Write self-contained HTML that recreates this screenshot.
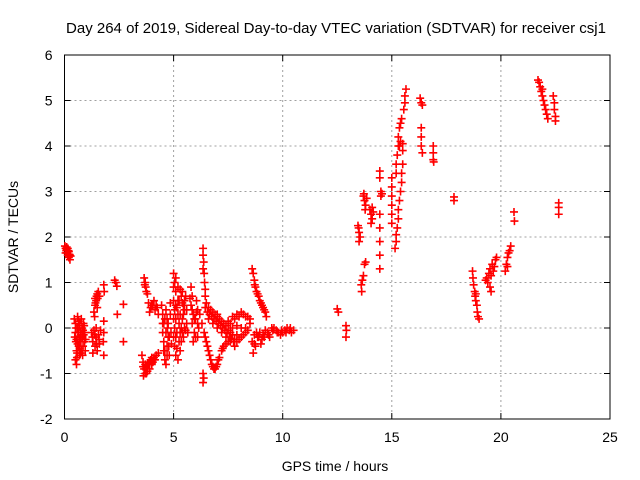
<!DOCTYPE html>
<html><head><meta charset="utf-8"><style>
body{margin:0;background:#fff}
svg{display:block;font-family:"Liberation Sans",sans-serif}
</style></head><body>
<svg id="chart" width="640" height="480">
<text x="336" y="33" text-anchor="middle" font-size="15">Day 264 of 2019, Sidereal Day-to-day VTEC variation (SDTVAR) for receiver csj1</text>
<g id="grid"></g>
<g id="axes"></g>
<g id="marks"></g>
<text x="335" y="471" text-anchor="middle" font-size="14">GPS time / hours</text>
<text transform="translate(18,237) rotate(-90)" text-anchor="middle" font-size="14">SDTVAR / TECUs</text>
</svg>
<script>
const xTicks=[0,5,10,15,20,25];
const yTicks=[-2,-1,0,1,2,3,4,5,6];
const morning=[[0.02,1.8],[0.05,1.75],[0.08,1.7],[0.1,1.78],[0.12,1.65],[0.15,1.6],[0.18,1.7],[0.2,1.55],[0.22,1.62],[0.25,1.5],[0.05,1.65],[0.15,1.75],[0.28,1.58],
[0.45,0.2],[0.5,0.1],[0.5,-0.1],[0.52,-0.3],[0.55,-0.5],[0.5,-0.7],[0.55,-0.8],[0.6,0.25],[0.6,0.0],[0.62,-0.2],[0.65,-0.4],[0.68,-0.6],[0.7,0.1],[0.72,-0.1],[0.75,-0.3],[0.78,-0.5],[0.8,0.0],[0.82,-0.2],[0.85,-0.4],[0.88,-0.15],[0.9,0.05],[0.92,-0.3],[0.95,-0.5],[0.58,-0.55],[0.65,0.15],[0.7,-0.45],[0.85,-0.05],
[1.25,-0.1],[1.3,-0.3],[1.35,-0.05],[1.4,-0.4],[1.45,-0.2],[1.5,-0.5],[1.55,-0.15],[1.6,-0.35],[1.65,-0.05],[1.3,-0.55],[1.45,0.0],
[1.35,0.35],[1.4,0.5],[1.45,0.6],[1.5,0.75],[1.55,0.8],[1.6,0.7],[1.5,0.45],[1.4,0.65],[1.8,0.95],[1.82,0.8],[1.38,0.25],
[1.8,0.15],[1.8,-0.1],[1.78,-0.3],[1.8,-0.6],
[2.3,1.05],[2.35,1.0],[2.4,0.92],[2.42,0.3],[2.7,0.52],[2.7,-0.3],
[3.65,1.1],[3.7,1.0],[3.72,0.9],[3.75,0.8],[3.8,0.75],[3.68,0.95],
[3.85,0.55],[3.95,0.45],[4.05,0.5],[4.15,0.4],[4.25,0.45],[4.3,0.3],[3.9,0.35],[4.1,0.6],
[3.55,-0.6],[3.6,-0.75],[3.65,-0.9],[3.7,-1.0],[3.75,-0.85],[3.8,-0.95],[3.85,-0.8],[3.9,-0.9],[3.95,-0.7],[4.0,-0.8],[4.05,-0.75],[4.1,-0.65],[4.15,-0.7],[4.2,-0.6],[4.3,-0.55],[3.62,-1.05],
[4.45,0.5],[4.5,0.3],[4.55,0.1],[4.5,-0.1],[4.55,-0.3],[4.6,-0.5],[4.6,-0.7],[4.65,0.4],[4.7,0.2],[4.72,0.0],[4.75,-0.2],[4.78,-0.4],[4.8,-0.6],[4.85,0.55],[4.85,0.3],[4.88,-0.1],[4.9,-0.35],[4.65,-0.8],
[5.0,1.2],[5.05,1.0],[5.1,0.8],[5.0,0.6],[5.05,0.4],[5.1,0.2],[5.05,0.0],[5.1,-0.2],[5.05,-0.4],[5.1,-0.6],[5.2,0.9],[5.25,0.6],[5.2,0.3],[5.25,0.1],[5.3,-0.1],[5.25,-0.3],[5.3,-0.5],[5.4,0.8],[5.45,0.5],[5.4,0.2],[5.5,0.0],[5.45,-0.2],[5.5,0.4],[5.55,0.7],[5.6,0.1],[5.65,-0.1],[5.2,-0.7],[5.35,0.0],[5.15,0.45],
[5.8,0.9],[5.85,0.7],[5.8,0.5],[5.9,0.3],[5.85,0.1],[5.95,-0.1],[5.9,-0.3],[6.05,0.6],[6.1,0.4],[6.0,0.2],[6.15,0.0],[6.1,-0.2],[6.2,0.3],
[6.35,1.75],[6.35,1.6],[6.38,1.45],[6.35,1.3],[6.4,1.2],[6.42,1.0],[6.45,0.85],[6.45,0.7],[6.35,-1.0],[6.38,-1.1],[6.35,-1.2],
[6.3,0.1],[6.4,-0.1],[6.5,-0.3],[6.6,-0.5],[6.7,-0.7],[6.8,-0.85],[6.9,-0.9],[7.0,-0.8],[7.1,-0.65],[7.2,-0.5],[7.3,-0.4],[6.55,-0.4],[6.75,-0.8],[6.95,-0.85],
[6.5,0.55],[6.6,0.45],[6.7,0.4],[6.8,0.35],[6.9,0.3],[7.0,0.25],[7.1,0.2],[7.2,0.15],[7.3,0.1],[7.4,0.05],[7.5,-0.05],[7.6,-0.1],[7.7,-0.15],[7.8,-0.25],[7.9,-0.3],[8.0,-0.25],[6.6,0.2],[6.8,0.1],[7.0,0.0],[7.2,-0.1],[7.4,-0.2],[7.6,-0.3],[7.8,-0.4],[7.4,-0.35],[7.6,0.1],[7.8,0.2],[8.0,0.25],[8.2,0.3],[8.4,0.25],[8.5,0.1],[8.3,0.0],[8.1,0.0],[7.9,0.05],[8.2,-0.15],[8.4,-0.05],[7.0,0.3],
[8.6,1.3],[8.65,1.2],[8.7,1.05],[8.75,0.9],[8.8,0.8],[8.9,0.7],[8.95,0.6],[9.0,0.55],[9.1,0.45],[9.2,0.35],[9.25,0.25],[8.72,0.95],
[8.6,-0.3],[8.65,-0.55],[8.7,-0.15],[8.8,-0.1],[8.9,-0.2],[9.0,-0.35],[9.1,-0.15],[9.2,-0.05],[9.3,-0.1],[9.4,-0.2],[9.5,0.0],[9.6,0.0],[9.7,-0.05],[9.8,-0.1],[9.9,-0.15],[10.0,-0.1],[10.1,-0.05],[10.2,0.0],[10.3,-0.05],[10.4,-0.1],[10.5,-0.05],[8.75,-0.4],[9.05,-0.25]];
const morningExtra=[[0.1,1.72],[0.2,1.68],[0.25,1.6],
[0.47,-0.2],[0.53,0.0],[0.57,-0.65],[0.63,-0.1],[0.67,0.05],[0.73,-0.55],[0.77,0.2],[0.83,-0.6],[0.87,0.1],[0.93,-0.1],[0.97,-0.25],[0.6,-0.35],[0.75,-0.15],[0.55,-0.25],[0.7,-0.25],
[1.28,-0.2],[1.38,-0.15],[1.48,-0.35],[1.58,-0.25],[1.42,0.55],[1.52,0.65],[1.47,0.7],
[3.6,-0.85],[3.7,-0.8],[3.8,-0.8],[3.9,-0.75],[4.0,-0.65],[4.1,-0.7],[3.75,-1.0],[4.0,0.5],[4.2,0.5],
[4.5,0.1],[4.55,-0.5],[4.6,0.2],[4.7,-0.4],[4.75,0.1],[4.8,-0.2],[4.65,-0.1],[4.7,-0.6],
[5.0,0.9],[5.0,0.2],[5.0,-0.2],[5.1,0.5],[5.15,-0.1],[5.2,0.6],[5.3,0.3],[5.35,0.7],[5.35,-0.3],[5.4,-0.1],[5.45,0.3],[5.5,0.6],[5.55,-0.05],[5.6,0.4],[5.1,1.1],[5.3,0.85],[5.15,-0.45],[5.4,0.55],
[5.75,0.65],[5.85,0.4],[5.95,0.2],[6.0,-0.2],[6.05,0.35],[6.1,0.1],
[6.45,0.45],[6.55,0.35],[6.65,0.3],[6.75,0.25],[6.85,0.2],[6.95,0.15],[7.05,0.1],[7.15,0.05],[7.25,0.0],[7.35,-0.05],[7.45,-0.1],[7.55,-0.2],[7.65,-0.25],[7.75,-0.3],[7.5,0.15],[7.7,0.25],[7.9,0.3],[8.1,0.35],[8.3,0.25],[8.5,0.2],[7.7,0.0],[7.9,-0.15],[8.1,-0.2],[8.3,-0.1],[7.5,-0.3],[6.65,-0.6],[6.85,-0.9],[7.05,-0.7],[7.25,-0.45],[6.45,-0.2],
[8.85,0.75],[9.05,0.5],[9.15,0.4],
[8.7,-0.35],[8.85,-0.2],[8.95,-0.1],[9.15,-0.2],[9.35,-0.15],[9.55,-0.05],[9.75,-0.1],[9.95,-0.05],[10.15,-0.1],[10.35,0.0]];
const afternoon=[[12.5,0.42],[12.55,0.35],[12.9,0.05],[12.92,-0.05],[12.9,-0.2],
[13.45,2.25],[13.5,2.1],[13.55,2.0],[13.5,1.9],[13.48,2.2],
[13.6,0.95],[13.65,1.05],[13.7,1.15],[13.75,1.4],[13.8,1.45],[13.62,0.8],
[13.7,2.9],[13.75,2.8],[13.8,2.7],[13.85,2.85],[13.72,2.95],[13.78,2.6],
[14.0,2.6],[14.05,2.5],[14.1,2.4],[14.05,2.3],[14.15,2.55],[14.1,2.65],
[14.45,3.45],[14.45,3.3],[14.5,3.0],[14.55,2.95],[14.5,2.9],[14.45,2.5],[14.45,2.2],[14.45,1.9],[14.45,1.6],[14.45,1.3],
[15.0,3.3],[15.0,3.1],[15.0,2.9],[15.0,2.7],[15.0,2.5],[15.0,2.3],
[15.15,1.75],[15.2,1.9],[15.2,2.05],[15.25,2.2],[15.3,2.4],[15.3,2.6],[15.35,2.8],[15.4,3.0],[15.45,3.2],[15.45,3.4],[15.5,3.6],[15.2,3.4],[15.2,3.6],[15.25,3.8],[15.3,4.0],[15.3,4.2],[15.35,4.4],[15.4,4.5],[15.45,4.6],[15.35,4.0],[15.4,4.1],[15.5,4.05],[15.55,4.8],[15.6,4.95],[15.6,5.1],[15.65,5.25],[15.5,3.9],
[16.3,5.05],[16.35,4.95],[16.4,4.9],[16.35,4.4],[16.35,4.2],[16.35,4.0],[16.4,3.85],
[16.9,4.0],[16.9,3.85],[16.9,3.7],[16.92,3.65],
[17.85,2.88],[17.85,2.8],
[18.7,1.25],[18.72,1.1],[18.75,0.95],[18.8,0.8],[18.82,0.7],[18.85,0.6],[18.9,0.5],[18.92,0.35],[18.95,0.25],[19.0,0.2],[18.85,0.75],
[19.3,1.05],[19.35,1.1],[19.4,1.0],[19.45,1.2],[19.5,1.3],[19.55,1.15],[19.6,1.4],[19.65,1.25],[19.7,1.35],[19.75,1.5],[19.8,1.55],[19.5,0.9],[19.55,0.8],
[20.2,1.25],[20.25,1.4],[20.3,1.55],[20.35,1.65],[20.4,1.7],[20.45,1.8],[20.3,1.35],
[20.6,2.55],[20.62,2.35],
[21.7,5.45],[21.75,5.4],[21.8,5.3],[21.85,5.2],[21.9,5.1],[21.95,5.0],[22.0,4.9],[22.05,4.8],[22.1,4.7],[22.15,4.6],[21.9,5.25],
[22.4,5.1],[22.45,4.95],[22.45,4.8],[22.5,4.65],[22.5,4.55],
[22.65,2.75],[22.65,2.65],[22.65,2.5]];

const L=64.5,R=610,T=55,B=419;
const xs=v=>L+(v-0)/25*(R-L);
const ys=v=>B-(v+2)/8*(B-T);
const NS='http://www.w3.org/2000/svg';
function mk(tag,parent,attrs){const e=document.createElementNS(NS,tag);for(const k in attrs)e.setAttribute(k,attrs[k]);parent.appendChild(e);return e;}
const grid=document.getElementById('grid'),axes=document.getElementById('axes'),marks=document.getElementById('marks');
xTicks.forEach(t=>{const x=xs(t);
 if(t>0&&t<25){const g=mk('line',grid,{x1:x,x2:x,y1:T,y2:B,stroke:'#a0a0a0','stroke-dasharray':'2,3'});
 
 }
 mk('line',axes,{x1:x,x2:x,y1:B,y2:B-6,stroke:'#000'});
 mk('line',axes,{x1:x,x2:x,y1:T,y2:T+6,stroke:'#000'});
 const lb=mk('text',axes,{x:x,y:B+23,'text-anchor':'middle','font-size':'14'});lb.textContent=t;
 
 });
yTicks.forEach(t=>{const y=ys(t);
 if(t>-2&&t<6){const g=mk('line',grid,{x1:L,x2:R,y1:y,y2:y,stroke:'#a0a0a0','stroke-dasharray':'2,3'});
 
 }
 mk('line',axes,{x1:L,x2:L+6,y1:y,y2:y,stroke:'#000'});
 mk('line',axes,{x1:R,x2:R-6,y1:y,y2:y,stroke:'#000'});
 const lb=mk('text',axes,{x:L-12,y:y+5,'text-anchor':'end','font-size':'14'});lb.textContent=t;
 
 });
const fr=mk('rect',axes,{x:L,y:T,width:R-L,height:B-T,fill:'none',stroke:'#000'});


morning.concat(morningExtra,afternoon).forEach(p=>{const x=xs(p[0]),y=ys(p[1]);
 const m=mk('path',marks,{d:`M${x-4},${y}H${x+4}M${x},${y-4}V${y+4}`,stroke:'#f00','stroke-width':'1.6',fill:'none'});
 
 });
</script>
</body></html>
